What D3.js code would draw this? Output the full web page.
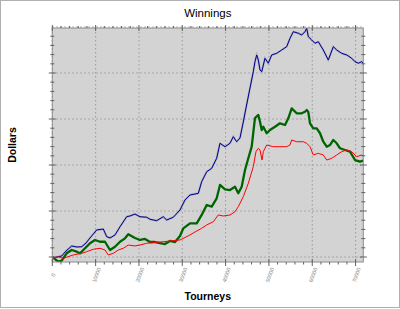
<!DOCTYPE html>
<html><head><meta charset="utf-8">
<script src="https://cdn.jsdelivr.net/npm/d3@7"></script>
<style>
html,body{margin:0;padding:0;background:#fff;}
svg{display:block;}
</style></head>
<body>
<svg id="c" width="400" height="309"></svg>
<script>
// ---- data ----
const xTicks = [0,10000,20000,30000,40000,50000,60000,70000];
const xTickLabels = ["0","10000","20000","30000","40000","50000","60000","70000"];
const yMajor = [0,5000,10000,15000,20000,25000];

const blueX = [0,1085,2170,3160,4480,5630,6790,7780,8700,10250,11770,12560,13320,14470,15630,17170,17930,19090,20240,21790,22550,24100,25620,26400,27930,29470,30630,31780,33700,34480,35640,36790,37940,38700,39860,41010,41780,42560,43320,44080,44710,45630,46390,46780,47180,47550,47940,48330,49090,49850,50640,51790,52950,54100,54860,55620,56780,57560,58320,58720,59090,59870,60630,61390,62550,63700,64860,65640,66790,67950,69100,69860,70630,71410,71780];
const blueY = [-110,0,110,650,1200,1090,1120,1520,2070,2940,3040,2210,2070,2390,3290,4380,4460,4670,4380,4320,4100,3950,4380,4020,4320,5110,6200,6740,6920,8190,9270,9640,10730,12360,11990,12360,13080,12530,12940,14680,16200,18370,20140,21230,21960,21410,20330,20140,21600,21060,21960,22140,22500,22860,23770,24490,24320,24130,24490,24860,23950,23590,23230,23400,22500,21410,22860,22500,22140,21960,21600,21230,21060,21230,21060];

const greenX = [0,620,1390,2170,3320,4480,5630,6390,7160,8700,9860,11010,12160,13320,14470,15630,16780,17540,19090,20240,21400,22550,23700,24860,26010,27170,28320,29470,30240,31780,33330,34480,35640,36790,37940,38700,39860,41010,42170,42930,43710,44480,45240,46020,46780,47550,47940,48330,48700,49480,50250,51400,52550,53710,54470,55250,56410,57560,58320,58720,59090,59480,60240,61030,61790,62550,63330,64090,64860,65640,66400,67560,68710,69860,71020,71780];
const greenY = [0,-220,-510,-400,400,760,580,400,760,1490,1850,1660,1660,760,1120,1660,2030,2470,2070,1850,1960,1630,1630,1520,1410,1740,1630,2280,3120,3660,3660,4570,5650,5470,6380,7830,7360,7280,7640,6920,7640,9460,10730,11990,15110,15440,14710,13800,14160,13450,13810,14160,14530,14350,15080,16160,15620,15620,15790,15980,15760,14530,13990,13990,13450,12530,11990,12170,12720,12360,11820,11630,11450,10540,10360,10470];

const redX = [0,1390,2540,4850,6790,7940,9460,11010,12160,12930,14080,15230,16390,17540,19090,20240,21790,23700,25620,27170,29470,31320,32940,34480,35640,37160,38310,39470,41010,42170,42930,44080,45240,46390,47010,47550,47940,48400,48700,49480,51010,52550,54100,54860,55250,56410,57930,58720,59480,60240,61390,62550,63330,64490,65640,66790,67950,69100,70260,71410,71780];
const redY = [-140,30,-140,220,400,580,840,950,760,220,400,760,950,1300,1200,1300,1490,1580,1660,1740,1850,2280,2720,3120,3480,3840,4570,4460,4570,4920,5470,6560,8010,9820,11450,11820,11630,10540,11450,12170,11990,11990,11990,12170,12720,12530,12530,12360,11990,11090,11270,11090,10540,10730,11090,11450,11630,11450,10900,11090,10980];

// ---- layout ----
const W = 400, H = 309;
const L = 52.3, R = 363.3, T = 28, B = 262;
const svg = d3.select("#c");

const x = d3.scaleLinear().domain([0, 71780]).range([L, R]);
const y = d3.scaleLinear().domain([-543, 24891]).range([B, T]);

// outer border
svg.append("rect").attr("x",0.5).attr("y",0.5).attr("width",W-1).attr("height",H-2)
  .attr("fill","#fff").attr("stroke","#b0b0b0");

// plot background
svg.append("rect").attr("x",L).attr("y",T).attr("width",R-L).attr("height",B-T)
  .attr("fill","#d3d3d3");

// grid
const g = svg.append("g");
xTicks.forEach(v=>{
  g.append("line").attr("x1",x(v)).attr("x2",x(v)).attr("y1",T).attr("y2",B)
   .attr("stroke","#9a9a9a").attr("stroke-width",1).attr("stroke-dasharray","1.5,2.5");
});
yMajor.forEach(v=>{
  g.append("line").attr("x1",L).attr("x2",R).attr("y1",y(v)).attr("y2",y(v))
   .attr("stroke","#9a9a9a").attr("stroke-width",1).attr("stroke-dasharray","1.5,2.5");
});

// lines
const mk = (xs, ys) => xs.map((d,i)=>[d, ys[i]]);
const line = d3.line().x(d=>x(d[0])).y(d=>y(d[1]));
svg.append("clipPath").attr("id","cp").append("rect")
  .attr("x",L).attr("y",T).attr("width",R-L).attr("height",B-T);
const lg = svg.append("g").attr("clip-path","url(#cp)");
lg.append("path").datum(mk(blueX,blueY)).attr("d",line).attr("fill","none")
  .attr("stroke","#8a8fb8").attr("stroke-width",2).attr("opacity",0.6);
lg.append("path").datum(mk(blueX,blueY)).attr("d",line).attr("fill","none")
  .attr("stroke","#00008b").attr("stroke-width",1);
lg.append("path").datum(mk(greenX,greenY)).attr("d",line).attr("fill","none")
  .attr("stroke","#006400").attr("stroke-width",2.3).attr("stroke-linejoin","round");
lg.append("path").datum(mk(redX,redY)).attr("d",line).attr("fill","none")
  .attr("stroke","#ff0000").attr("stroke-width",1);

// plot border
svg.append("rect").attr("x",L).attr("y",T).attr("width",R-L).attr("height",B-T)
  .attr("fill","none").attr("stroke","#8c8c8c").attr("stroke-width",1);

// ticks
const tc = "#606060";
const xMinor = d3.range(0, 72000, 2000);
const yMinor = d3.range(0, 25000, 1000);
xMinor.forEach(v=>{
  const maj = v % 10000 === 0;
  svg.append("line").attr("x1",x(v)).attr("x2",x(v)).attr("y1",maj?B-3:B).attr("y2",B+(maj?4:2.5)).attr("stroke",tc);
  svg.append("line").attr("x1",x(v)).attr("x2",x(v)).attr("y1",T+(maj?3:0)).attr("y2",T-(maj?3:2)).attr("stroke",tc);
});
yMinor.forEach(v=>{
  const maj = v % 5000 === 0;
  const e = maj?3.5:2;
  svg.append("line").attr("x1",L-e).attr("x2",L+e).attr("y1",y(v)).attr("y2",y(v)).attr("stroke",tc);
  svg.append("line").attr("x1",R-e).attr("x2",R+e).attr("y1",y(v)).attr("y2",y(v)).attr("stroke",tc);
});

// x tick labels
xTicks.forEach((v,i)=>{
  svg.append("text").attr("transform",`translate(${x(v)+0.8},${275}) rotate(-70)`)
    .attr("text-anchor","middle").attr("dominant-baseline","central")
    .attr("font-family","Liberation Sans, Arial, sans-serif").attr("font-size",5.5)
    .attr("fill","#8a8a8a").text(xTickLabels[i]);
});

// titles
svg.append("text").attr("x",(L+R)/2).attr("y",17).attr("text-anchor","middle")
  .attr("font-family","Liberation Sans, Arial, sans-serif").attr("font-size",11.5)
  .attr("fill","#000").text("Winnings");
svg.append("text").attr("x",(L+R)/2).attr("y",299.5).attr("text-anchor","middle")
  .attr("font-family","Liberation Sans, Arial, sans-serif").attr("font-size",10.5).attr("font-weight","bold")
  .attr("fill","#000").text("Tourneys");
svg.append("text").attr("transform",`translate(15.8,${(T+B)/2}) rotate(-90)`).attr("text-anchor","middle")
  .attr("font-family","Liberation Sans, Arial, sans-serif").attr("font-size",10.5).attr("font-weight","bold")
  .attr("fill","#000").text("Dollars");
</script>
</body></html>
